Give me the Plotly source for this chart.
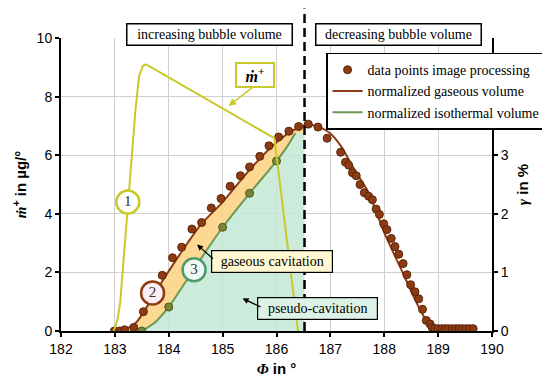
import plotly.graph_objects as go

# crank angle of maximum bubble volume (dashed line)
PEAK_PHI = 186.52

# data points from image processing (gamma in %)
dots_phi = [182.99, 183.09, 183.18, 183.35, 183.53, 183.71, 183.88, 184.07, 184.24, 184.43,
            184.61, 184.79, 184.97, 185.14, 185.33, 185.50, 185.69, 185.86, 186.04, 186.23,
            186.41, 186.59, 186.77, 186.94, 187.19, 187.28, 187.34, 187.41, 187.48, 187.55,
            187.63, 187.71, 187.78, 187.85, 187.91, 187.99, 188.05, 188.13, 188.20, 188.27,
            188.35, 188.42, 188.49, 188.57, 188.64, 188.71, 188.78, 188.85, 188.89, 188.94,
            189.00, 189.07, 189.13, 189.19, 189.26, 189.33, 189.39, 189.45, 189.52, 189.58, 189.65]
dots_gamma = [0.0, 0.0, 0.02, 0.06, 0.33, 0.60, 0.95, 1.25, 1.43, 1.74,
              1.85, 2.10, 2.26, 2.47, 2.65, 2.80, 2.98, 3.16, 3.31, 3.41,
              3.49, 3.53, 3.48, 3.29, 3.05, 2.88, 2.83, 2.70, 2.65, 2.50,
              2.36, 2.30, 2.24, 2.08, 1.99, 1.83, 1.73, 1.58, 1.44, 1.31,
              1.15, 0.96, 0.79, 0.67, 0.55, 0.37, 0.18, 0.12, 0.06, 0.04,
              0.04, 0.04, 0.04, 0.04, 0.04, 0.04, 0.04, 0.04, 0.04, 0.04, 0.04]

# normalized gaseous volume (gamma in %)
gas_phi = [183.0, 183.2, 183.4, 183.6, 183.88, 184.2, 184.58, 185.0, 185.5, 186.0, 186.3,
           PEAK_PHI, 186.6, 186.8, 187.0, 187.2, 187.43, 187.71, 188.0, 188.36, 188.6,
           188.8, 188.9, 189.0, 189.65]
gas_gamma = [0.0, 0.03, 0.15, 0.42, 0.85, 1.30, 1.80, 2.20, 2.75, 3.22, 3.42,
             3.51, 3.52, 3.48, 3.37, 3.15, 2.78, 2.36, 1.68, 0.96, 0.48,
             0.15, 0.03, 0.01, 0.01]

# normalized isothermal volume (gamma in %)
iso_phi = [183.5, 183.75, 184.0, 184.25, 184.5, 185.0, 185.5, 186.0, 186.2, 186.35]
iso_gamma = [0.0, 0.15, 0.41, 0.75, 1.10, 1.77, 2.35, 2.90, 3.15, 3.38]
iso_dots_phi = [183.5, 184.0, 184.5, 185.0, 185.5, 186.0]
iso_dots_gamma = [0.0, 0.41, 1.10, 1.77, 2.35, 2.90]

# mass flow m+ (µg/°)
m_phi = [182.98, 183.05, 183.1, 183.15, 183.2, 183.25, 183.3, 183.38, 183.45, 183.52,
         183.58, 185.96, 186.40]
m_val = [0.0, 0.4, 1.0, 2.2, 3.4, 4.5, 5.8, 7.5, 8.7, 9.05, 9.1, 6.58, 0.0]

# numbered circle labels (positions in µg/° units)
circ_text = ["1", "2", "3"]
circ_phi = [183.24, 183.70, 184.47]
circ_m = [4.4, 1.3, 2.09]
circ_line = ["#C9C92A", "#8C3B12", "#4E9A6A"]
circ_fill = ["#FFFFFF", "#FBEFF4", "#EEF9F3"]

BROWN = "#8C3B12"
GREEN = "#6A9A50"
YELLOW = "#C9C92A"
SERIF = "Liberation Serif"
SANS = "Liberation Sans"

fig = go.Figure()

# pseudo-cavitation area under isothermal curve
gx = iso_phi + [PEAK_PHI, PEAK_PHI, iso_phi[0]]
gy = iso_gamma + [iso_gamma[-1], 0, 0]
fig.add_trace(go.Scatter(x=gx, y=gy, fill="toself", mode="none",
                         fillcolor="rgba(195,232,212,0.85)", showlegend=False, hoverinfo="skip"))

# gaseous cavitation area between the curves
gp = [(p, g) for p, g in zip(gas_phi, gas_gamma) if p <= PEAK_PHI]
ox = [p for p, g in gp] + [PEAK_PHI] + iso_phi[::-1]
oy = [g for p, g in gp] + [iso_gamma[-1]] + iso_gamma[::-1]
fig.add_trace(go.Scatter(x=ox, y=oy, fill="toself", mode="none",
                         fillcolor="rgba(252,212,135,0.9)", showlegend=False, hoverinfo="skip"))

fig.add_trace(go.Scatter(x=gas_phi, y=gas_gamma, mode="lines",
                         line=dict(color=BROWN, width=2, shape="spline", smoothing=0.6),
                         name="normalized gaseous volume", legendrank=2))
fig.add_trace(go.Scatter(x=iso_phi, y=iso_gamma, mode="lines",
                         line=dict(color=GREEN, width=2, shape="spline", smoothing=0.6),
                         name="normalized isothermal volume", legendrank=3))
fig.add_trace(go.Scatter(x=iso_dots_phi, y=iso_dots_gamma, mode="markers",
                         marker=dict(size=8, color="#7A8636", line=dict(color="#4A5522", width=1)),
                         showlegend=False))
fig.add_trace(go.Scatter(x=dots_phi, y=dots_gamma, mode="markers",
                         marker=dict(size=8, color=BROWN, line=dict(color="#5A250A", width=1)),
                         name="data points image processing", legendrank=1))

# m+ curve (left axis, drawn on top)
fig.add_trace(go.Scatter(x=m_phi, y=m_val, yaxis="y2", mode="lines",
                         line=dict(color=YELLOW, width=2), showlegend=False))

# numbered circles
fig.add_trace(go.Scatter(x=circ_phi, y=circ_m, yaxis="y2", mode="markers+text", text=circ_text,
                         textposition="middle center",
                         textfont=dict(family=SERIF, size=15, color="#333333"),
                         marker=dict(size=23, color=circ_fill, opacity=1,
                                     line=dict(color=circ_line, width=2.5)),
                         showlegend=False))

fig.add_shape(type="line", xref="x", yref="paper", x0=PEAK_PHI, x1=PEAK_PHI, y0=0, y1=1.101,
              line=dict(color="black", width=2.5, dash="9px,5px"))

ann = []
# boxes on top
for txt, xc in [("increasing bubble volume", 184.75), ("decreasing bubble volume", 188.265)]:
    ann.append(dict(text=txt, x=xc, y=1.0505, xref="x", yref="paper", showarrow=False,
                    font=dict(family=SERIF, size=14, color="black"), bgcolor="white",
                    bordercolor="black", borderwidth=1.5, borderpad=2, width=160, height=16))
# m+ label
ann.append(dict(text="<b><i>ṁ</i><sup>+</sup></b>", x=185.60, y=8.75, yref="y2", showarrow=False,
                font=dict(family=SERIF, size=16, color="black"), bgcolor="white",
                bordercolor=YELLOW, borderwidth=2, borderpad=2, width=32, height=18))
ann.append(dict(text="", x=185.11, y=7.68, ax=185.60, ay=8.38, axref="x", ayref="y2", yref="y2",
                showarrow=True, arrowcolor=YELLOW, arrowwidth=1.5, arrowhead=2, arrowsize=1))
# gaseous cavitation
ann.append(dict(text="gaseous cavitation", x=185.92, y=2.37, yref="y2", showarrow=False,
                font=dict(family=SERIF, size=14, color="black"), bgcolor="#FFF8D2",
                bordercolor="black", borderwidth=1.2, borderpad=2, width=116, height=17))
ann.append(dict(text="", x=184.525, y=2.95, ax=184.85, ay=2.42, axref="x", ayref="y2", yref="y2",
                showarrow=True, arrowcolor="black", arrowwidth=1.2, arrowhead=2, arrowsize=1))
# pseudo-cavitation
ann.append(dict(text="pseudo-cavitation", x=186.754, y=0.76, yref="y2", showarrow=False,
                font=dict(family=SERIF, size=14, color="black"), bgcolor="#DDF2E6",
                bordercolor="black", borderwidth=1.2, borderpad=2, width=115, height=17))
ann.append(dict(text="", x=185.37, y=1.11, ax=185.73, ay=0.80, axref="x", ayref="y2", yref="y2",
                showarrow=True, arrowcolor="black", arrowwidth=1.2, arrowhead=2, arrowsize=1))

axis_common = dict(showline=True, linecolor="black", linewidth=2, ticks="outside", ticklen=4,
                   tickwidth=1.5, tickcolor="black", tickfont=dict(family=SANS, size=14, color="black"),
                   zeroline=False)

fig.update_layout(
    width=550, height=379,
    margin=dict(l=48, r=47, t=30, b=52),
    plot_bgcolor="white", paper_bgcolor="white",
    xaxis=dict(range=[182, 190], dtick=1, showgrid=True, gridcolor="#CFCFCF", gridwidth=1,
               title=dict(text="<b><i><span style=\"font-family:Liberation Serif\">Φ</span></i> in °</b>",
                          font=dict(family=SANS, size=15, color="black"), standoff=8),
               **axis_common),
    yaxis=dict(range=[0, 5], side="right", tickvals=[0, 1, 2, 3], showgrid=False,
               title=dict(text="<b><i><span style=\"font-family:Liberation Serif\">γ</span></i> in %</b>",
                          font=dict(family=SANS, size=15, color="black"), standoff=10),
               **axis_common),
    yaxis2=dict(range=[0, 10], dtick=2, overlaying="y", side="left", anchor="x",
                showgrid=True, gridcolor="#CFCFCF", gridwidth=1,
                title=dict(text="<b><i><span style=\"font-family:Liberation Serif\">ṁ</span></i><sup>+</sup> in µg/°</b>",
                           font=dict(family=SANS, size=15, color="black"), standoff=6),
                **axis_common),
    legend=dict(x=0.615, y=0.95, xanchor="left", yanchor="top", bgcolor="white",
                bordercolor="black", borderwidth=1.5, font=dict(family=SERIF, size=14, color="black"),
                itemwidth=30, tracegroupgap=0),
    annotations=ann,
    showlegend=True,
)

fig.write_html("out.html")
